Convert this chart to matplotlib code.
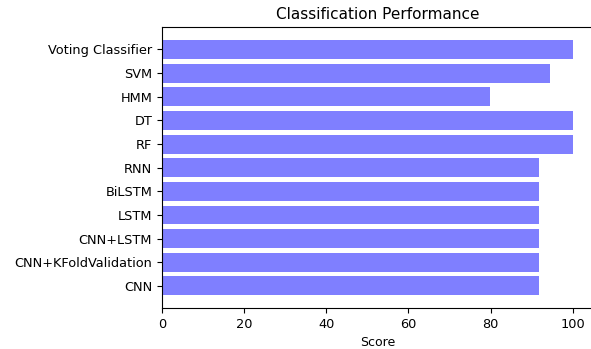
import matplotlib
matplotlib.use('Agg')
import matplotlib.pyplot as plt

# 数据
models = ['CNN', 'CNN+KFoldValidation', 'CNN+LSTM', 'LSTM', 'BiLSTM', 'RNN',
          'RF', 'DT', 'HMM', 'SVM', 'Voting Classifier']
scores = [91.7, 91.7, 91.7, 91.7, 91.7, 91.7, 100, 100, 79.8, 94.4, 100]

fig, ax = plt.subplots(figsize=(5.91, 3.49), dpi=100)
fig.subplots_adjust(left=0.274, right=1.004, bottom=0.117, top=0.922)

ax.barh(models, scores, color='blue', alpha=0.5)
ax.set_xlabel('Score', fontsize=9)
ax.set_title('Classification Performance', fontsize=11)
ax.tick_params(labelsize=9.3)

plt.savefig('out.png', dpi=100)
